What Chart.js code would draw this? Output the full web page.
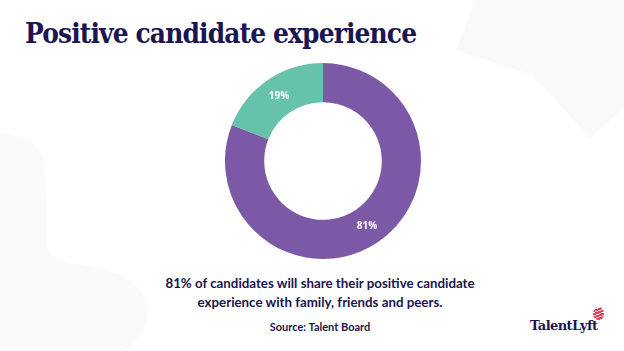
<!DOCTYPE html>
<html>
<head>
<meta charset="utf-8">
<script src="https://cdn.jsdelivr.net/npm/chart.js@4/dist/chart.umd.min.js"></script>
<style>
  html, body { margin:0; padding:0; width:624px; height:351px; overflow:hidden; background:#ffffff; }
  .wrap { position:relative; width:624px; height:351px; }
  svg.bg { position:absolute; left:0; top:0; }
  h1 { position:absolute; left:25px; top:17px; margin:0; font-family:"DejaVu Serif", serif; font-weight:bold; font-size:28px; color:#1b1650; letter-spacing:-1px; white-space:nowrap; transform-origin:0 0; transform:scaleX(0.893); }
  .chartbox { position:absolute; left:225px; top:63px; width:196px; height:196px; }
  .caption { position:absolute; left:8px; width:624px; top:274px; text-align:center; font-family:Lato, "Open Sans", sans-serif; font-weight:bold; font-size:13.3px; line-height:19px; color:#1b1650; }
  .source { position:absolute; left:8px; width:624px; top:320px; text-align:center; font-family:Lato, "Open Sans", sans-serif; font-weight:bold; font-size:11px; color:#1b1650; }
  .logo { position:absolute; left:530px; top:318px; font-family:"DejaVu Serif", serif; font-weight:bold; font-size:13px; color:#1b1650; letter-spacing:-0.6px; }
  .balloon { position:absolute; left:593px; top:307px; width:11px; height:13px; border-radius:50% 50% 50% 50% / 55% 55% 45% 45%;
    background:repeating-linear-gradient(160deg, #e8334a 0 2px, #ffffff 2px 3px); }
</style>
</head>
<body>
<div class="wrap">
  <svg class="bg" width="624" height="351">
    <path d="M475,0 L456,50 L533,75 L590,138 L624,108 L624,0 Z" fill="#f9f9f9"/>
    <path d="M0,133 Q40,135 45,165 L47,245 Q50,262 75,264 Q140,272 147,305 Q150,340 120,351 L0,351 Z" fill="#fafafa"/>
  </svg>
  <h1>Positive candidate experience</h1>
  <div class="chartbox"><canvas id="c" width="196" height="196"></canvas></div>
  <div class="caption">81% of candidates will share their positive candidate<br>experience with family, friends and peers.</div>
  <div class="source">Source: Talent Board</div>
  <div class="logo">TalentLyft</div>
  <div class="balloon"></div>
</div>
<script>
const categories = ["Will share", "Other"];
const values = [81, 19];
const labelsText = ["81%", "19%"];
const colors = ["#7b59a6", "#66c2aa"];

const labelPlugin = {
  id: 'sliceLabels',
  afterDatasetsDraw(chart) {
    const ctx = chart.ctx;
    const meta = chart.getDatasetMeta(0);
    ctx.save();
    ctx.fillStyle = '#ffffff';
    ctx.font = 'bold 10px "Open Sans", sans-serif';
    ctx.textAlign = 'center';
    ctx.textBaseline = 'middle';
    meta.data.forEach((arc, i) => {
      const p = arc.tooltipPosition();
      ctx.fillText(labelsText[i], p.x, p.y);
    });
    ctx.restore();
  }
};

new Chart(document.getElementById('c'), {
  type: 'doughnut',
  data: {
    labels: categories,
    datasets: [{ data: values, backgroundColor: colors, borderWidth: 0 }]
  },
  options: {
    responsive: false,
    animation: false,
    cutout: '60%',
    layout: { padding: 0 },
    plugins: { legend: { display: false }, tooltip: { enabled: false } }
  },
  plugins: [labelPlugin]
});
</script>
</body>
</html>
